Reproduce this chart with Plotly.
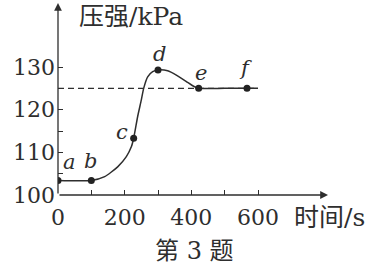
import plotly.graph_objects as go

# curve (time s, pressure kPa)
curve_t = [0, 100, 140, 179, 205, 220, 227, 239, 250, 257, 269, 284, 300, 329, 355, 385, 404, 422, 500, 567, 600]
curve_p = [103.4, 103.4, 104.3, 106.6, 109.0, 111.3, 113.3, 118.4, 122.3, 125.0, 127.7, 128.9, 129.3, 129.1, 128.1, 126.6, 125.6, 125.0, 125.0, 125.0, 125.0]

# labelled points
pt_names = ["a", "b", "c", "d", "e", "f"]
pt_t = [0, 100, 227, 300, 422, 567]
pt_p = [103.4, 103.4, 113.3, 129.3, 125.0, 125.0]

# dashed reference line
ref_t = [0, 600]
ref_p = [125, 125]

x_ticks = [0, 100, 200, 300, 400, 500, 600]
x_ticktext = ["0", "", "200", "", "400", "", "600"]
y_ticks = [100, 105, 110, 115, 120, 125, 130]
y_ticktext = ["100", "", "110", "", "120", "", "130"]

INK = "#2e2e2e"
SERIF = "DejaVu Serif, Noto Sans CJK SC"

L, R, T, B = 58, 43, 3, 75
W, H = 371, 270
pw, ph = W - L - R, H - T - B

fig = go.Figure()
fig.add_trace(go.Scatter(x=ref_t, y=ref_p, mode="lines",
                         line=dict(color=INK, width=1.2, dash="6px,4px"), hoverinfo="skip"))
fig.add_trace(go.Scatter(x=curve_t, y=curve_p, mode="lines",
                         line=dict(color=INK, width=1.5, shape="spline", smoothing=0.6), hoverinfo="skip"))
fig.add_trace(go.Scatter(x=pt_t, y=pt_p, mode="markers",
                         marker=dict(color="#222", size=7), hoverinfo="skip"))

# point labels (offsets in pixels: right, down)
offs = {"a": (11, -18), "b": (-1, -19), "c": (-12, -6), "d": (1, -16), "e": (2, -15), "f": (-2, -20)}
for n, t, p in zip(pt_names, pt_t, pt_p):
    dx, dy = offs[n]
    fig.add_annotation(x=t, y=p, text=f"<i>{n}</i>", showarrow=False, xshift=dx, yshift=-dy,
                       xanchor="center", yanchor="middle",
                       font=dict(family="DejaVu Serif", size=21, color=INK))

# axes with arrows
fig.add_annotation(x=810, y=100, ax=0, ay=100, xref="x", yref="y", axref="x", ayref="y",
                   showarrow=True, arrowhead=2, arrowsize=1.2, arrowwidth=1.3, arrowcolor=INK, text="")
fig.add_annotation(x=0, y=145, ax=0, ay=100, xref="x", yref="y", axref="x", ayref="y",
                   showarrow=True, arrowhead=2, arrowsize=1.2, arrowwidth=1.3, arrowcolor=INK, text="")


def px_note(text, px, py, size):
    fig.add_annotation(x=(px - L) / pw, y=(H - B - py) / ph, xref="paper", yref="paper",
                       xanchor="center", yanchor="middle", text=text, showarrow=False,
                       font=dict(family=SERIF, size=size, color=INK))


px_note("压强/kPa", 131, 17, 25)
px_note("时间/s", 329, 217, 25)
px_note("第 3 题", 194, 251, 24)

fig.update_layout(
    width=W, height=H, margin=dict(l=L, r=R, t=T, b=B),
    paper_bgcolor="white", plot_bgcolor="white", showlegend=False,
    xaxis=dict(range=[0, 810], showgrid=False, zeroline=False, showline=False,
               tickvals=x_ticks, ticktext=x_ticktext, ticks="inside", ticklen=5,
               tickcolor=INK, tickwidth=1.2, ticklabelstandoff=7,
               tickfont=dict(family="DejaVu Serif", size=22, color=INK)),
    yaxis=dict(range=[100, 145], showgrid=False, zeroline=False, showline=False,
               tickvals=y_ticks, ticktext=y_ticktext, ticks="inside", ticklen=5,
               tickcolor=INK, tickwidth=1.2, ticklabelstandoff=2,
               tickfont=dict(family="DejaVu Serif", size=22, color=INK)),
)

fig.write_html("out.html")
